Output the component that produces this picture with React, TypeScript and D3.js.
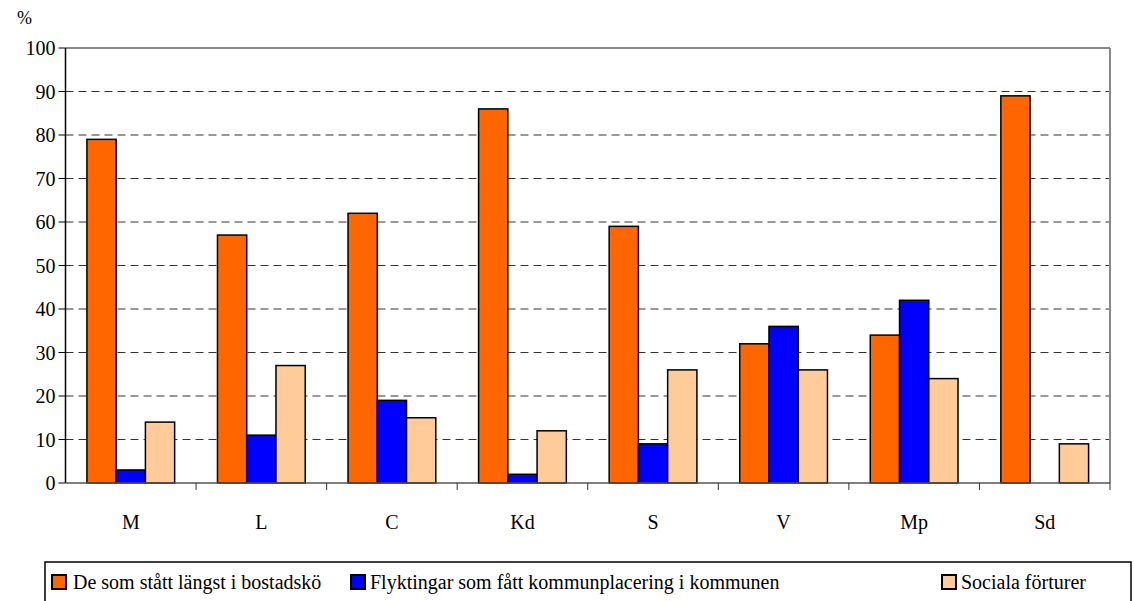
import React from "react";
import * as d3 from "d3";

const categories = ["M", "L", "C", "Kd", "S", "V", "Mp", "Sd"];
const seriesNames = [
  "De som stått längst i bostadskö",
  "Flyktingar som fått kommunplacering i kommunen",
  "Sociala förturer",
];
const queueValues = [79, 57, 62, 86, 59, 32, 34, 89];
const refugeeValues = [3, 11, 19, 2, 9, 36, 42, 0];
const socialValues = [14, 27, 15, 12, 26, 26, 24, 9];
const yTicks = [0, 10, 20, 30, 40, 50, 60, 70, 80, 90, 100];
const colors = ["#FF6600", "#0000FF", "#FFCC99"];

const W = 1134;
const H = 601;
const left = 65.5;
const right = 1110;
const top = 48;
const bottom = 483;
const FONT = "'Liberation Serif', Tinos, 'Times New Roman', 'Nimbus Roman', serif";

export default function App() {
  const series = [queueValues, refugeeValues, socialValues];
  const x = d3.scaleBand<string>().domain(categories).range([left, right]).paddingInner(0).paddingOuter(0);
  const y = d3.scaleLinear().domain([0, 100]).range([bottom, top]);
  const groupW = x.bandwidth() * 0.672;
  const inner = d3.scaleBand<number>().domain([0, 1, 2]).range([0, groupW]);
  const off = (x.bandwidth() - groupW) / 2;
  const legendItems = [
    { sx: 52, tx: 73 },
    { sx: 351, tx: 370 },
    { sx: 942, tx: 961 },
  ];
  const ts = { fontFamily: FONT, fontSize: "20px" };
  return (
    <svg width={W} height={H} style={{ position: "absolute", left: 0, top: 0, fontFamily: FONT }}>
      <rect x={0} y={0} width={W} height={H} fill="#fff" />
      {yTicks.filter((t) => t > 0 && t < 100).map((t) => (
        <line key={t} x1={left} x2={right} y1={y(t)} y2={y(t)} stroke="#333" strokeWidth={1} strokeDasharray="8,5" />
      ))}
      <line x1={left} x2={right} y1={y(100)} y2={y(100)} stroke="#888" strokeWidth={2} />
      <line x1={right} x2={right} y1={y(100)} y2={bottom} stroke="#888" strokeWidth={2} />
      {categories.map((c, i) => (
        <g key={c}>
          {series.map((vals, s) =>
            vals[i] > 0 ? (
              <rect
                key={s}
                x={(x(c) as number) + off + (inner(s) as number)}
                y={y(vals[i])}
                width={inner.bandwidth()}
                height={bottom - y(vals[i])}
                fill={colors[s]}
                stroke="#000"
                strokeWidth={1.5}
              />
            ) : null
          )}
        </g>
      ))}
      <line x1={left} x2={left} y1={top} y2={bottom} stroke="#000" strokeWidth={1.5} />
      {yTicks.map((t) => (
        <g key={t}>
          <line x1={left - 7} x2={left} y1={y(t)} y2={y(t)} stroke="#000" strokeWidth={1} />
          <text x={left - 10} y={y(t) + 7} textAnchor="end" fill="#000" style={ts}>
            {t}
          </text>
        </g>
      ))}
      <line x1={left} x2={right} y1={bottom} y2={bottom} stroke="#555" strokeWidth={1.5} />
      {categories.map((c) => (
        <line key={c} x1={(x(c) as number) + x.bandwidth()} x2={(x(c) as number) + x.bandwidth()} y1={bottom} y2={bottom + 7} stroke="#333" strokeWidth={1} />
      ))}
      {categories.map((c) => (
        <text key={c} x={(x(c) as number) + x.bandwidth() / 2} y={529} textAnchor="middle" fill="#000" style={ts}>
          {c}
        </text>
      ))}
      <text x={17} y={24} fill="#000" style={{ fontFamily: FONT, fontSize: "18px" }}>%</text>
      <rect x={45} y={562} width={1086} height={50} fill="#fff" stroke="#000" strokeWidth={1.5} />
      {seriesNames.map((n, i) => (
        <g key={n}>
          <rect x={legendItems[i].sx} y={575} width={14} height={14} fill={colors[i]} stroke="#000" strokeWidth={2} />
          <text x={legendItems[i].tx} y={589} fill="#000" style={ts}>
            {n}
          </text>
        </g>
      ))}
    </svg>
  );
}
